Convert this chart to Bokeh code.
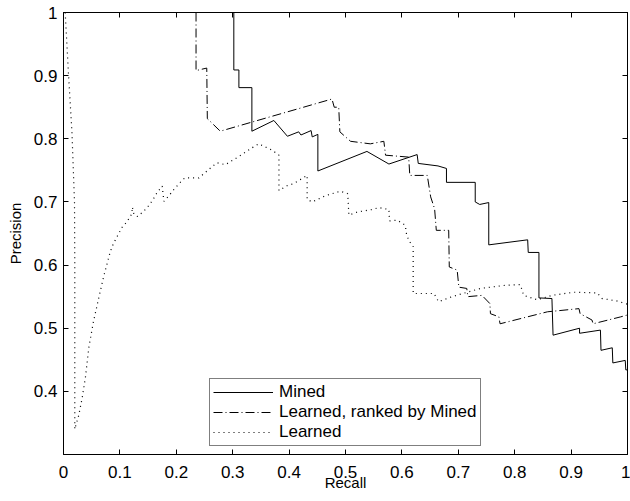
from bokeh.plotting import figure
from bokeh.models import Range1d, LinearAxis, FixedTicker, Legend, LegendItem
from bokeh.embed import file_html
from bokeh.resources import INLINE

# ---- data ----
mined_recall = [0.302, 0.302, 0.311, 0.311, 0.334, 0.334, 0.373, 0.397, 0.417, 0.421,
                0.439, 0.441, 0.451, 0.451, 0.538, 0.577, 0.627, 0.629, 0.664, 0.679,
                0.679, 0.730, 0.730, 0.738, 0.754, 0.754, 0.823, 0.824, 0.843, 0.843,
                0.866, 0.868, 0.915, 0.915, 0.952, 0.953, 0.973, 0.974, 0.996, 0.997, 1.0]
mined_precision = [1.0, 0.909, 0.909, 0.881, 0.881, 0.812, 0.829, 0.804, 0.811, 0.806,
                   0.813, 0.803, 0.807, 0.749, 0.780, 0.760, 0.775, 0.761, 0.757, 0.753,
                   0.731, 0.731, 0.700, 0.696, 0.699, 0.632, 0.640, 0.620, 0.620, 0.548,
                   0.547, 0.489, 0.500, 0.492, 0.497, 0.465, 0.469, 0.445, 0.449, 0.434, 0.434]

ranked_recall = [0.235, 0.235, 0.254, 0.255, 0.278, 0.476, 0.480, 0.488, 0.490, 0.509,
                 0.544, 0.568, 0.571, 0.612, 0.614, 0.645, 0.651, 0.658, 0.661, 0.683,
                 0.684, 0.698, 0.701, 0.715, 0.717, 0.742, 0.756, 0.757, 0.772, 0.774,
                 0.858, 0.914, 0.916, 0.937, 0.939, 0.988, 1.0]
ranked_precision = [1.0, 0.908, 0.912, 0.832, 0.812, 0.863, 0.850, 0.850, 0.811, 0.796,
                    0.792, 0.796, 0.774, 0.771, 0.742, 0.742, 0.708, 0.689, 0.655, 0.655,
                    0.597, 0.592, 0.565, 0.563, 0.550, 0.552, 0.539, 0.523, 0.518, 0.507,
                    0.526, 0.531, 0.523, 0.513, 0.507, 0.518, 0.521]

learned_recall = [0.003, 0.009, 0.015, 0.0195, 0.020, 0.020, 0.023, 0.027, 0.033, 0.039,
                  0.045, 0.053, 0.063, 0.071, 0.082, 0.086, 0.092, 0.104, 0.112, 0.121,
                  0.122, 0.125, 0.131, 0.142, 0.151, 0.159, 0.166, 0.175, 0.178, 0.188,
                  0.196, 0.206, 0.215, 0.240, 0.261, 0.272, 0.287, 0.311, 0.335, 0.346,
                  0.358, 0.370, 0.382, 0.382, 0.397, 0.408, 0.432, 0.432, 0.441, 0.465,
                  0.491, 0.504, 0.506, 0.521, 0.547, 0.559, 0.577, 0.578, 0.592, 0.606,
                  0.608, 0.612, 0.620, 0.620, 0.657, 0.665, 0.689, 0.716, 0.739, 0.784,
                  0.810, 0.816, 0.840, 0.866, 0.905, 0.946, 0.955, 0.982, 1.0]
learned_precision = [1.0, 0.90, 0.81, 0.70, 0.60, 0.34, 0.350, 0.362, 0.389, 0.423,
                     0.470, 0.510, 0.550, 0.581, 0.618, 0.629, 0.640, 0.660, 0.668, 0.681,
                     0.692, 0.680, 0.677, 0.685, 0.694, 0.704, 0.715, 0.725, 0.701, 0.711,
                     0.720, 0.730, 0.738, 0.738, 0.754, 0.762, 0.759, 0.772, 0.786, 0.792,
                     0.787, 0.782, 0.774, 0.718, 0.726, 0.729, 0.742, 0.704, 0.700, 0.710,
                     0.717, 0.713, 0.679, 0.684, 0.688, 0.691, 0.688, 0.670, 0.671, 0.663,
                     0.650, 0.639, 0.629, 0.555, 0.555, 0.542, 0.550, 0.557, 0.563, 0.568,
                     0.569, 0.552, 0.545, 0.552, 0.557, 0.556, 0.547, 0.543, 0.538]

x_ticks = [0, 0.1, 0.2, 0.3, 0.4, 0.5, 0.6, 0.7, 0.8, 0.9, 1]
x_tick_labels = ["0", "0.1", "0.2", "0.3", "0.4", "0.5", "0.6", "0.7", "0.8", "0.9", "1"]
y_ticks = [0.4, 0.5, 0.6, 0.7, 0.8, 0.9, 1]
y_tick_labels = ["0.4", "0.5", "0.6", "0.7", "0.8", "0.9", "1"]

series_labels = ["Mined", "Learned, ranked by Mined", "Learned"]

FONT = "Liberation Sans"

p = figure(width=630, height=501, x_range=Range1d(0, 1), y_range=Range1d(0.3, 1),
           output_backend="svg", toolbar_location=None,
           min_border_left=63, min_border_right=3, min_border_top=12, min_border_bottom=47)
p.grid.visible = False
p.outline_line_color = "black"
p.outline_line_width = 1
p.background_fill_color = "white"
p.border_fill_color = "white"

p.xaxis.ticker = FixedTicker(ticks=x_ticks)
p.yaxis.ticker = FixedTicker(ticks=y_ticks)
p.xaxis.major_label_overrides = dict(zip(x_ticks, x_tick_labels))
p.yaxis.major_label_overrides = dict(zip(y_ticks, y_tick_labels))

for ax in list(p.xaxis) + list(p.yaxis):
    ax.axis_line_color = "black"
    ax.major_tick_line_color = "black"
    ax.major_tick_in = 5
    ax.major_tick_out = 0
    ax.minor_tick_line_color = None
    ax.major_label_text_font = FONT
    ax.major_label_text_font_size = "17px"
    ax.major_label_text_color = "black"
    ax.axis_label_text_font = FONT
    ax.axis_label_text_font_size = "15px"
    ax.axis_label_text_font_style = "normal"
    ax.axis_label_text_color = "black"

p.xaxis.axis_label = "Recall"
p.yaxis.axis_label = "Precision"
p.xaxis.major_label_standoff = 11
p.xaxis.axis_label_standoff = -7
p.yaxis.major_label_standoff = 6
p.yaxis.axis_label_standoff = 7

top_axis = LinearAxis(ticker=FixedTicker(ticks=x_ticks),
                      major_label_overrides={t: "" for t in x_ticks},
                      major_label_standoff=0, major_tick_in=5, major_tick_out=0,
                      minor_tick_line_color=None, axis_line_color="black")
right_axis = LinearAxis(ticker=FixedTicker(ticks=y_ticks),
                        major_label_overrides={t: "" for t in y_ticks},
                        major_label_standoff=0, major_tick_in=5, major_tick_out=0,
                        minor_tick_line_color=None, axis_line_color="black")
p.add_layout(top_axis, "above")
p.add_layout(right_axis, "right")

r1 = p.line(mined_recall, mined_precision, line_color="black", line_width=1)
r2 = p.line(ranked_recall, ranked_precision, line_color="black", line_width=1,
            line_dash="9 3 1 3")
r3 = p.line(learned_recall, learned_precision, line_color="black", line_width=1.2,
            line_dash="1 4")

legend = Legend(items=[LegendItem(label=series_labels[0], renderers=[r1]),
                       LegendItem(label=series_labels[1], renderers=[r2]),
                       LegendItem(label=series_labels[2], renderers=[r3])],
                location=(146, 8), padding=3, spacing=0, label_height=20,
                glyph_height=20, glyph_width=60, label_standoff=6, margin=0,
                border_line_color="black", border_line_width=1,
                background_fill_color="white", background_fill_alpha=1,
                label_text_font=FONT, label_text_font_size="17px",
                label_text_color="black")
p.add_layout(legend)

open("out.html", "w").write(file_html(p, INLINE))
